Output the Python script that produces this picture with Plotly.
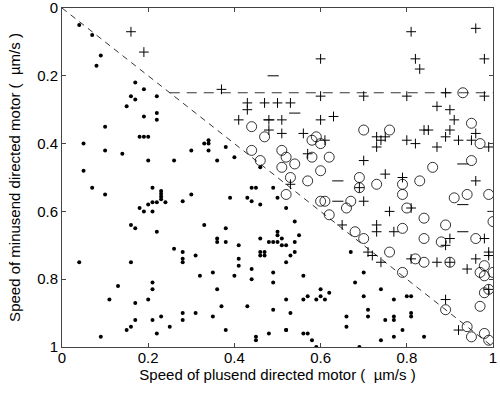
import plotly.graph_objects as go

# ---- data ----
dots_x = [0.04,0.07,0.09,0.08,0.17,0.19,0.16,0.17,0.22,0.15,0.19,0.22,0.22,0.10,0.18,0.19,0.20,0.05,0.10,0.14,
          0.20,0.26,0.30,0.33,0.34,0.34,0.34,0.38,0.36,0.40,0.46,0.05,0.07,0.21,0.44,0.45,0.49,0.10,0.23,0.23,
          0.23,0.23,0.21,0.22,0.24,0.20,0.18,0.19,0.21,0.28,0.30,0.39,0.43,0.44,0.46,0.50,0.16,0.17,0.22,0.33,
          0.38,0.36,0.36,0.38,0.46,0.48,0.49,0.50,0.50,0.50,0.41,0.26,0.28,0.31,0.28,0.28,0.46,0.47,0.46,0.47,
          0.41,0.41,0.04,0.16,0.44,0.49,0.35,0.32,0.40,0.44,0.49,0.21,0.13,0.21,0.36,0.11,0.20,0.17,0.37,0.43,
          0.49,0.28,0.31,0.23,0.35,0.17,0.21,0.28,0.16,0.25,0.15,0.38,0.22,0.48,0.09,0.45,0.45,0.52,0.56,0.57,
          0.58,0.69,0.74,0.77,0.84,
          0.52,0.54,0.51,0.51,0.52,0.54,0.55,0.54,0.53,0.52,0.67,0.56,0.70,0.68,0.60,0.62,0.56,0.57,0.59,0.60,
          0.61,0.52,0.53,0.70,0.74,0.77,0.80,0.81,0.71,0.71,0.66,0.66,0.75,0.77,0.77,0.81,0.81,0.52,0.59,0.79]
dots_y = [0.05,0.08,0.14,0.17,0.22,0.24,0.26,0.27,0.26,0.29,0.32,0.31,0.33,0.35,0.38,0.38,0.38,0.40,0.42,0.43,
          0.45,0.45,0.42,0.40,0.39,0.40,0.42,0.41,0.45,0.44,0.47,0.48,0.53,0.53,0.53,0.53,0.53,0.55,0.540,0.548,
          0.556,0.564,0.573,0.573,0.573,0.58,0.59,0.60,0.60,0.57,0.55,0.56,0.56,0.57,0.58,0.56,0.64,0.65,0.66,0.64,
          0.65,0.68,0.69,0.69,0.68,0.69,0.69,0.69,0.66,0.67,0.70,0.71,0.72,0.73,0.74,0.75,0.72,0.72,0.73,0.73,
          0.74,0.76,0.75,0.75,0.77,0.78,0.78,0.79,0.79,0.80,0.81,0.81,0.82,0.83,0.83,0.86,0.86,0.87,0.88,0.88,
          0.89,0.90,0.90,0.91,0.91,0.92,0.92,0.92,0.94,0.94,0.95,0.95,0.96,0.96,0.97,0.97,0.98,0.95,0.96,0.96,
          0.98,1.00,0.98,0.97,0.97,
          0.59,0.63,0.68,0.70,0.70,0.69,0.67,0.72,0.73,0.75,0.72,0.79,0.78,0.81,0.83,0.84,0.86,0.85,0.86,0.85,
          0.86,0.86,0.90,0.85,0.83,0.86,0.85,0.85,0.89,0.91,0.91,0.94,0.92,0.91,0.92,0.90,0.91,0.95,1.00,0.95]

plus_x = [0.16,0.19,0.37,0.43,0.43,0.47,0.50,0.41,0.48,0.48,0.81,0.96,0.60,0.82,0.98,0.83,0.60,0.70,0.80,0.89,
          0.98,0.53,0.87,0.90,0.51,0.60,0.63,0.91,0.51,0.56,0.61,0.73,0.74,0.75,0.73,0.80,0.82,0.84,0.85,0.90,
          0.89,0.92,0.95,0.96,0.99,0.57,0.87,0.70,0.75,0.79,0.96,0.53,0.70,0.76,0.81,0.73,0.73,0.77,0.90,0.89,
          0.98,0.96,0.99,0.99,0.94,0.65,0.71,0.72,0.74,0.81,0.87,0.89,0.92,0.99,0.90,0.69]
plus_y = [0.07,0.13,0.24,0.28,0.30,0.28,0.28,0.33,0.33,0.36,0.07,0.06,0.15,0.15,0.15,0.18,0.26,0.26,0.26,0.25,
          0.26,0.28,0.29,0.30,0.33,0.33,0.32,0.33,0.37,0.37,0.39,0.38,0.39,0.38,0.41,0.39,0.40,0.36,0.36,0.36,
          0.38,0.39,0.39,0.37,0.41,0.43,0.41,0.45,0.49,0.50,0.51,0.52,0.57,0.60,0.59,0.64,0.66,0.66,0.68,0.70,
          0.68,0.74,0.72,0.73,0.77,0.64,0.72,0.73,0.75,0.74,0.75,0.86,0.95,0.83,0.75,0.53]

circ_x = [0.44,0.47,0.44,0.46,0.93,0.95,0.70,0.76,0.58,0.59,0.60,0.97,0.51,0.52,0.51,0.54,0.58,0.62,0.60,0.86,
          0.95,0.53,0.57,0.69,0.73,0.79,0.83,0.52,0.60,0.61,0.67,0.66,0.69,0.79,0.91,0.94,0.99,0.80,0.62,0.84,
          0.89,1.00,0.68,0.70,0.79,0.84,0.88,0.96,0.76,0.82,0.84,0.90,0.79,0.98,0.97,0.98,1.00,0.99,0.98,0.97,
          0.89,0.94,0.95,0.98,0.99]
circ_y = [0.35,0.38,0.42,0.45,0.25,0.34,0.36,0.36,0.39,0.38,0.40,0.40,0.42,0.44,0.47,0.46,0.44,0.44,0.48,0.47,
          0.45,0.50,0.51,0.50,0.52,0.52,0.51,0.55,0.57,0.57,0.57,0.59,0.53,0.55,0.56,0.55,0.55,0.59,0.61,0.62,
          0.64,0.63,0.66,0.68,0.65,0.68,0.69,0.68,0.72,0.74,0.75,0.75,0.78,0.76,0.78,0.79,0.78,0.83,0.84,0.88,
          0.89,0.94,0.97,0.96,0.98]

minus_x = [0.49,0.54,0.64,0.93,0.64,0.93,0.93,1.00,0.48]
minus_y = [0.20,0.31,0.51,0.46,0.57,0.58,0.66,0.60,0.33]

diag_x = [0, 1]
diag_y = [0, 1]
thr_x = [0.25, 1]
thr_y = [0.25, 0.25]

tick_vals = [0, 0.2, 0.4, 0.6, 0.8, 1]
tick_text = ["0", "0.2", "0.4", "0.6", "0.8", "1"]

FONT = "Liberation Sans, Arial, sans-serif"

fig = go.Figure()
fig.add_trace(go.Scatter(x=diag_x, y=diag_y, mode="lines",
                         line=dict(color="black", width=0.8, dash="6px,5px"), hoverinfo="skip"))
fig.add_trace(go.Scatter(x=thr_x, y=thr_y, mode="lines",
                         line=dict(color="black", width=0.8, dash="10px,7px"), hoverinfo="skip"))
fig.add_trace(go.Scatter(x=dots_x, y=dots_y, mode="markers",
                         marker=dict(symbol="circle", size=4, color="black")))
fig.add_trace(go.Scatter(x=plus_x, y=plus_y, mode="markers",
                         marker=dict(symbol="cross-thin", size=7, color="black",
                                     line=dict(color="black", width=1))))
fig.add_trace(go.Scatter(x=circ_x, y=circ_y, mode="markers",
                         marker=dict(symbol="circle-open", size=10, color="black",
                                     line=dict(color="black", width=0.8))))
fig.add_trace(go.Scatter(x=minus_x, y=minus_y, mode="markers",
                         marker=dict(symbol="line-ew", size=8, color="black",
                                     line=dict(color="black", width=1))))

axis_common = dict(showgrid=False, zeroline=False, showline=True, mirror="ticks",
                   linecolor="#444", linewidth=1, ticks="inside", ticklen=4,
                   tickcolor="#444", tickfont=dict(family=FONT, size=15, color="black"),
                   tickvals=tick_vals, ticktext=tick_text, automargin=False,
                   ticklabeloverflow="allow")

fig.update_layout(
    width=500, height=394, showlegend=False,
    paper_bgcolor="white", plot_bgcolor="white",
    margin=dict(l=62, r=7, t=8, b=47),
    xaxis=dict(range=[0, 1], title=dict(text="Speed of plusend directed motor (  µm/s )",
                                        font=dict(family=FONT, size=15, color="black"), standoff=1),
               ticklabelstandoff=-3, **axis_common),
    yaxis=dict(range=[1, 0], title=dict(text="Speed of minusend directed motor (  µm/s )",
                                        font=dict(family=FONT, size=15, color="black"), standoff=12),
               **axis_common),
)

fig.write_html("out.html", config={"displayModeBar": False},
               post_script="document.body.style.margin='0';")
